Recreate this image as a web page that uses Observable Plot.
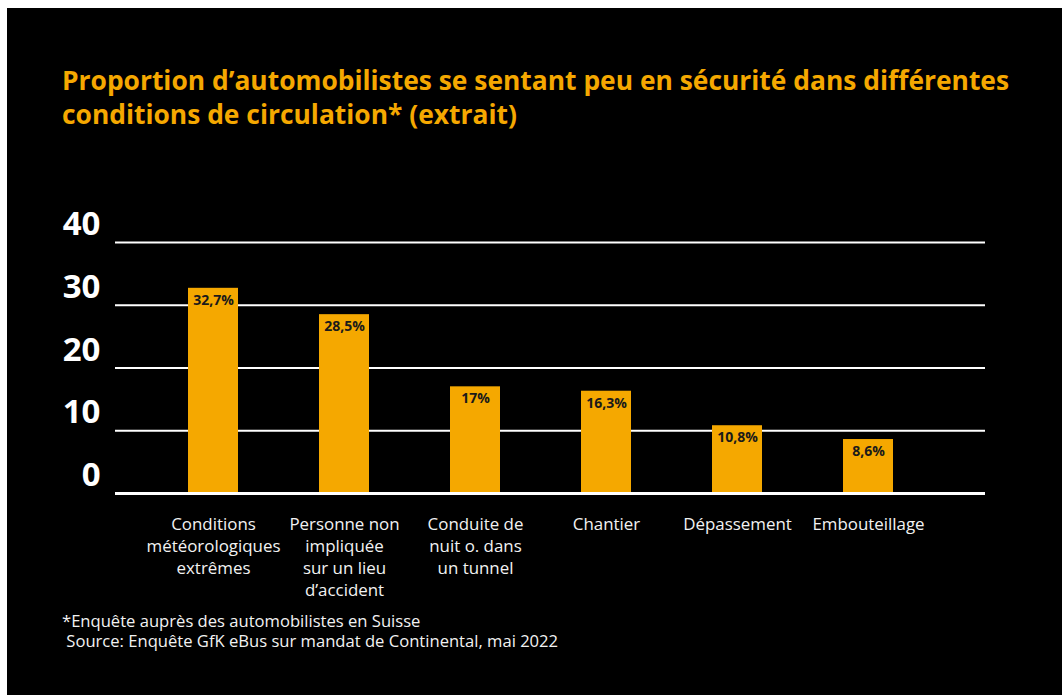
<!DOCTYPE html>
<html>
<head>
<meta charset="utf-8">
<script src="https://cdn.jsdelivr.net/npm/d3@7"></script>
<script src="https://cdn.jsdelivr.net/npm/@observablehq/plot@0.6"></script>
<style>
  html, body { margin: 0; padding: 0; background: #fff; width: 1062px; height: 695px; overflow: hidden; }
  #card { position: absolute; left: 7px; top: 8px; width: 1055px; height: 687px; background: #000; font-family: "Open Sans", sans-serif; }
  #title { position: absolute; left: 55px; top: 55px; color: #f5a800; font-weight: 700; font-size: 26.4px; line-height: 34px; white-space: nowrap; }
  #chart { position: absolute; left: 0; top: 140px; }
  #note { position: absolute; left: 55px; top: 603px; color: #f2f2f2; font-size: 16.6px; line-height: 19.5px; white-space: pre; }
</style>
</head>
<body>
<div id="card">
  <div id="title">Proportion d’automobilistes se sentant peu en sécurité dans différentes<br>conditions de circulation* (extrait)</div>
  <div id="chart"></div>
  <div id="note">*Enquête auprès des automobilistes en Suisse
 Source: Enquête GfK eBus sur mandat de Continental, mai 2022</div>
</div>
<script>
const categories = [
  "Conditions\nmétéorologiques\nextrêmes",
  "Personne non\nimpliquée\nsur un lieu\nd’accident",
  "Conduite de\nnuit o. dans\nun tunnel",
  "Chantier",
  "Dépassement",
  "Embouteillage"
];
const values = [32.7, 28.5, 17, 16.3, 10.8, 8.6];
const valueLabels = ["32,7%", "28,5%", "17%", "16,3%", "10,8%", "8,6%"];
const yTicks = [0, 10, 20, 30, 40];

const data = categories.map((c, i) => ({cat: c, value: values[i], label: valueLabels[i]}));

const plot = Plot.plot({
  width: 1055,
  height: 460,
  marginTop: 94,
  marginBottom: 115,
  marginLeft: 108,
  marginRight: 77,
  style: {background: "transparent", color: "white", fontFamily: "Open Sans, sans-serif", overflow: "visible"},
  x: {domain: categories, range: [137.2, 928.8], paddingInner: 0.62, paddingOuter: 0.31, axis: null},
  y: {domain: [0, 40], axis: null},
  marks: [
    Plot.ruleY(yTicks.filter(d => d > 0), {stroke: "white", strokeWidth: 2}),
    Plot.barY(data, {x: "cat", y: "value", fill: "#f5a800"}),
    Plot.ruleY([0], {stroke: "white", strokeWidth: 3}),
    Plot.text(data, {x: "cat", y: "value", text: "label", dy: 12, lineAnchor: "middle", fill: "#1a1a1a", fontSize: 14, fontWeight: 700}),
    Plot.text(yTicks, {y: d => d, text: d => String(d), frameAnchor: "left", textAnchor: "end", dx: -15, dy: -18, fill: "white", fontSize: 33, fontWeight: 700}),
    Plot.text(data, {x: "cat", text: "cat", frameAnchor: "bottom", lineAnchor: "top", dy: 21, lineHeight: 1.3, fill: "#f2f2f2", fontSize: 16.9})
  ]
});
document.getElementById("chart").appendChild(plot);
</script>
</body>
</html>
